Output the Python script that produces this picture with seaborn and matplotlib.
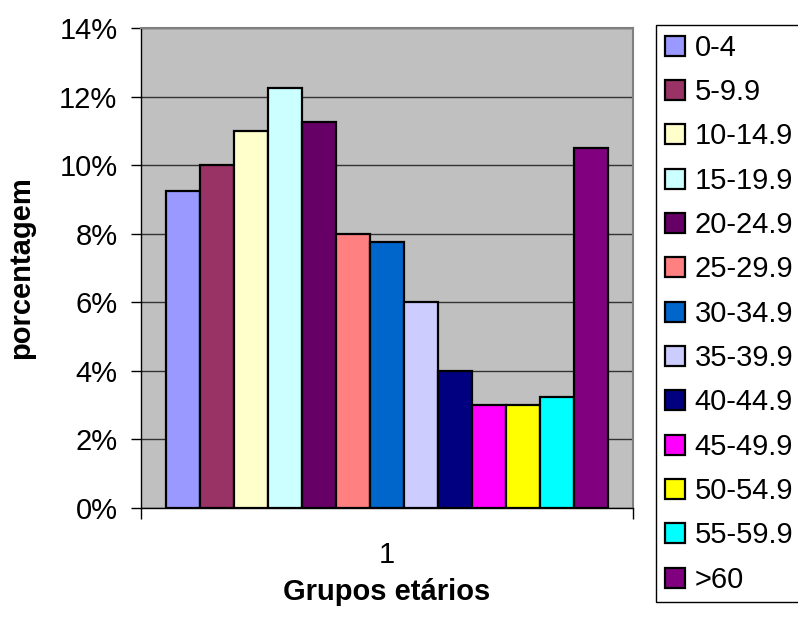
import matplotlib
matplotlib.use("Agg")
import matplotlib.pyplot as plt
import seaborn as sns
import pandas as pd
from matplotlib.ticker import PercentFormatter

# Age groups and their share of the population (percent)
grupos = ["0-4", "5-9.9", "10-14.9", "15-19.9", "20-24.9", "25-29.9", "30-34.9",
          "35-39.9", "40-44.9", "45-49.9", "50-54.9", "55-59.9", ">60"]
porcentagem = [9.25, 10.0, 11.0, 12.25, 11.25, 8.0, 7.75, 6.0, 4.0, 3.0, 3.0, 3.25, 10.5]
cores = ["#9999FF", "#993366", "#FFFFCC", "#CCFFFF", "#660066", "#FF8080", "#0066CC",
         "#CCCCFF", "#000080", "#FF00FF", "#FFFF00", "#00FFFF", "#800080"]
categoria = ["1"] * len(grupos)

df = pd.DataFrame({"categoria": categoria, "grupo": grupos, "valor": porcentagem})

sns.set_style("white")
plt.rcParams["font.family"] = ["Liberation Sans", "DejaVu Sans"]
plt.rcParams["text.color"] = "black"
plt.rcParams["axes.labelcolor"] = "black"
plt.rcParams["xtick.color"] = "black"
plt.rcParams["ytick.color"] = "black"

FS = 21

fig = plt.figure(figsize=(7.98, 6.23), dpi=100)
ax = fig.add_axes([141 / 798, 1 - 508 / 623, (633 - 141) / 798, (508 - 28) / 623])
ax.set_facecolor("#C0C0C0")

sns.barplot(data=df, x="categoria", y="valor", hue="grupo", hue_order=grupos,
            palette=cores, width=0.9, edgecolor="black", linewidth=1.6,
            saturation=1, ax=ax, legend=True)

ax.set_xlim(-0.5, 0.5)
ax.set_ylim(0, 14)
ax.set_yticks(range(0, 15, 2))
ax.yaxis.set_major_formatter(PercentFormatter(decimals=0))
ax.yaxis.grid(True, color="#333333", linewidth=1.0)
ax.set_axisbelow(True)

ax.tick_params(axis="y", which="major", length=7, width=1, color="black",
               labelcolor="black", labelsize=FS, pad=10, left=True)
ax.set_xticks([-0.5, 0.5], minor=True)
ax.tick_params(axis="x", which="minor", length=8, width=1, color="black", bottom=True)
ax.tick_params(axis="x", which="major", length=0, labelsize=FS, labelcolor="black", pad=24)

for side in ("left", "bottom"):
    ax.spines[side].set_color("black")
    ax.spines[side].set_linewidth(1.0)
for side in ("top", "right"):
    ax.spines[side].set_color("#808080")
    ax.spines[side].set_linewidth(1.5)

ax.set_xlabel("Grupos etários", fontsize=FS, fontweight="bold", labelpad=6, color="black")
ax.set_ylabel("porcentagem", fontsize=FS, fontweight="bold", labelpad=17, color="black")

handles, labels = ax.get_legend_handles_labels()
leg = ax.legend(handles, labels, loc="upper left", bbox_to_anchor=(656 / 798, 1 - 25 / 623),
                bbox_transform=fig.transFigure, borderaxespad=0, frameon=True, fancybox=False,
                edgecolor="black", framealpha=1, fontsize=FS, handlelength=0.68,
                handleheight=0.68, handletextpad=0.35, labelspacing=0.56, borderpad=0.3)
leg.get_frame().set_linewidth(1.0)
for t in leg.get_texts():
    t.set_color("black")

fig.savefig("out.png", dpi=100)
